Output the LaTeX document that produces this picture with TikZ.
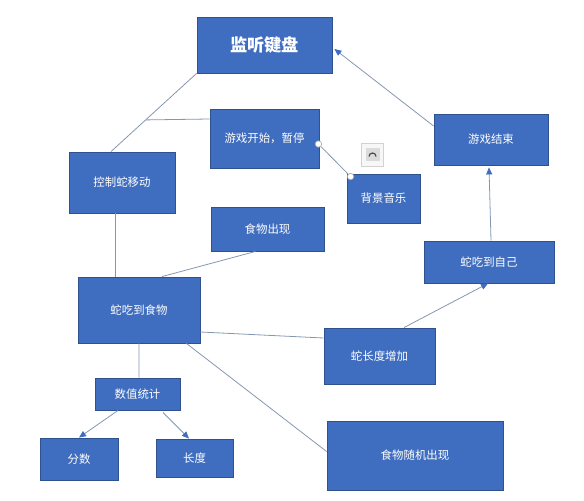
\documentclass[tikz,border=0pt]{standalone}
\usepackage{fontspec}
\setmainfont{Noto Sans CJK SC}
\usepackage{xcolor}
\usetikzlibrary{arrows.meta, calc}
\definecolor{blockblue}{HTML}{3F6DBF}
\definecolor{blockedge}{HTML}{2F528F}
\definecolor{linkgray}{HTML}{8496B0}

\begin{document}
\begin{tikzpicture}[x=0.02cm, y=-0.02cm]

\tikzset{
  blockbox/.style={rectangle, draw=blockedge, line width=0.5pt, fill=blockblue,
    text=white, text centered, inner sep=0pt, font=\fontsize{6.5}{8}\selectfont},
  linkline/.style={draw=linkgray, line width=0.45pt},
  linkarrow/.style={linkline, -{Triangle[length=1.4mm, width=1.2mm, color=blockblue, fill=blockblue]}},
  handledot/.style={circle, draw=gray!70, line width=0.35pt, fill=white,
    minimum size=0.13cm, inner sep=0pt},
  iconbox/.style={rectangle, draw=gray!35, line width=0.4pt, fill=gray!6,
    minimum width=0.44cm, minimum height=0.46cm, inner sep=0pt},
  iconpane/.style={rectangle, fill=gray!28, minimum width=0.28cm, minimum height=0.26cm, inner sep=0pt}
}

\useasboundingbox (0,0) rectangle (584,500);

\node[blockbox, minimum width=2.7cm, minimum height=1.12cm,
  font=\fontsize{9.8}{11}\selectfont\bfseries] (listen) at (264.5,45) {监听键盘};
\node[blockbox, minimum width=2.18cm, minimum height=1.18cm] (startstop) at (264.5,138.5) {游戏开始，暂停};
\node[blockbox, minimum width=2.12cm, minimum height=1.22cm] (control) at (122,182.5) {控制蛇移动};
\node[blockbox, minimum width=1.46cm, minimum height=0.98cm] (music) at (383.5,198.5) {背景音乐};
\node[blockbox, minimum width=2.28cm, minimum height=1.02cm] (gameover) at (491,139.5) {游戏结束};
\node[blockbox, minimum width=2.6cm, minimum height=0.84cm] (eatself) at (489,262) {蛇吃到自己};
\node[blockbox, minimum width=2.26cm, minimum height=0.88cm] (foodshow) at (267.5,229) {食物出现};
\node[blockbox, minimum width=2.44cm, minimum height=1.32cm] (eatfood) at (139,310) {蛇吃到食物};
\node[blockbox, minimum width=2.22cm, minimum height=1.12cm] (grow) at (379.5,356) {蛇长度增加};
\node[blockbox, minimum width=1.7cm, minimum height=0.64cm] (stats) at (137.5,394) {数值统计};
\node[blockbox, minimum width=1.56cm, minimum height=0.84cm] (score) at (79,459) {分数};
\node[blockbox, minimum width=1.54cm, minimum height=0.76cm] (length) at (194.5,458) {长度};
\node[blockbox, minimum width=3.52cm, minimum height=1.38cm] (foodrandom) at (415,455.5) {食物随机出现};

\draw[linkline] (listen.south west) -- ($(control.north)+(-11,0)$)
  coordinate[pos=0.595] (branch);
\draw[linkline] (branch) -- ($(startstop.west)+(0,-19.5)$);
\draw[linkline] ($(control.south)+(-7,0)$) -- ($(eatfood.north)+(-24,0)$);
\draw[linkline] ($(foodshow.south)+(-12,0)$) -- ($(eatfood.north)+(23,0)$);
\draw[linkline] ($(eatfood.east)+(0,22)$) -- ($(grow.west)+(0,-18)$);
\draw[linkline] ($(eatfood.south east)+(-14,0)$) -- ($(foodrandom.west)+(0,-4)$);
\draw[linkline] (eatfood.south) -- ($(stats.north)+(1.5,0)$);

\draw[linkarrow] ($(grow.north)+(24.5,0)$) -- ($(eatself.south)+(-1,0)$);
\draw[linkarrow] ($(eatself.north)+(2,0)$) -- ($(gameover.south)+(-2,2)$);
\draw[linkarrow] ($(gameover.west)+(0,-13.5)$) -- ($(listen.east)+(2,4)$);
\draw[linkarrow] ($(stats.south)+(-19.5,0)$) -- (score.north);
\draw[linkarrow] ($(stats.south)+(25.5,2)$) -- ($(length.north)+(-5.5,0)$);

\node[handledot] (handlea) at ($(startstop.east)+(-1,5.5)$) {};
\node[handledot] (handleb) at ($(music.north west)+(4,3)$) {};
\draw[linkline] (handlea) -- (handleb);

\node[iconbox] (icon) at (372.5,154.5) {};
\node[iconpane] (iconinner) at (icon.center) {};
\draw[line width=0.7pt, black!70] ($(icon.center)+(-3.5,2)$) arc[start angle=180, end angle=0, radius=0.07cm];

\end{tikzpicture}
\end{document}
